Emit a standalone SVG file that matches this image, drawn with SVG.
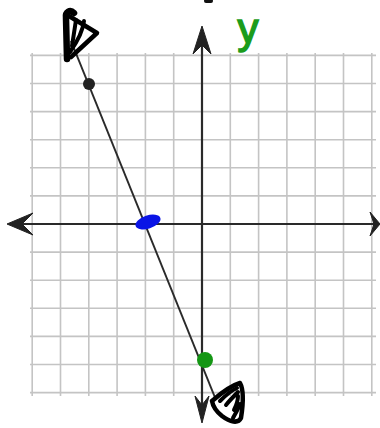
<svg xmlns="http://www.w3.org/2000/svg" width="380" height="428" viewBox="0 0 380 428">
<style>
.grid line{stroke:#c4c4c4;stroke-width:1.6}
.axis{stroke:#2a2a2a;stroke-width:2.2;fill:none}
.ahead{fill:#222;stroke:#222;stroke-width:1;stroke-linejoin:round}
.scrib{fill:none;stroke:#000;stroke-linecap:round;stroke-linejoin:round}
.lbl{font-family:"Liberation Sans","DejaVu Sans",sans-serif;font-size:42px;fill:#1b9c1b;stroke:#1b9c1b;stroke-width:1.5}
</style>
<rect width="380" height="428" fill="#fff"/>
<g id="grid" class="grid">
<line x1="32.2" y1="53" x2="32.2" y2="396"/>
<line x1="60.5" y1="53" x2="60.5" y2="396"/>
<line x1="88.8" y1="53" x2="88.8" y2="396"/>
<line x1="117.1" y1="53" x2="117.1" y2="396"/>
<line x1="145.4" y1="53" x2="145.4" y2="396"/>
<line x1="173.7" y1="53" x2="173.7" y2="396"/>
<line x1="230.3" y1="53" x2="230.3" y2="396"/>
<line x1="258.6" y1="53" x2="258.6" y2="396"/>
<line x1="286.9" y1="53" x2="286.9" y2="396"/>
<line x1="315.2" y1="53" x2="315.2" y2="396"/>
<line x1="343.5" y1="53" x2="343.5" y2="396"/>
<line x1="371.8" y1="53" x2="371.8" y2="396"/>
<line x1="30" y1="55.4" x2="376" y2="55.4"/>
<line x1="30" y1="83.5" x2="376" y2="83.5"/>
<line x1="30" y1="111.6" x2="376" y2="111.6"/>
<line x1="30" y1="139.7" x2="376" y2="139.7"/>
<line x1="30" y1="167.8" x2="376" y2="167.8"/>
<line x1="30" y1="195.9" x2="376" y2="195.9"/>
<line x1="30" y1="252.1" x2="376" y2="252.1"/>
<line x1="30" y1="280.2" x2="376" y2="280.2"/>
<line x1="30" y1="308.3" x2="376" y2="308.3"/>
<line x1="30" y1="336.4" x2="376" y2="336.4"/>
<line x1="30" y1="364.5" x2="376" y2="364.5"/>
<line x1="30" y1="392.6" x2="376" y2="392.6"/>
</g>
<g id="x-axis">
<line class="axis" x1="10" y1="224" x2="376" y2="224"/>
<path class="ahead" d="M7,224 L33,213 L22,224 L33,235 Z"/>
<path class="ahead" d="M380,224 L370,212 L374,224 L370,236 Z"/>
</g>
<g id="y-axis">
<line class="axis" x1="202" y1="30" x2="202" y2="418"/>
<path class="ahead" d="M202,26 L193,54 L202,45 L211,54 Z"/>
<path class="ahead" d="M202,423 L195,396 L202,405 L209,396 Z"/>
<path d="M206,1 L211,1" stroke="#111" stroke-width="4" stroke-linecap="round"/>
</g>
<g id="y-label">
<text class="lbl" x="248" y="43" text-anchor="middle">y</text>
</g>
<g id="line">
<line x1="71" y1="41" x2="216" y2="400" stroke="#2a2a2a" stroke-width="2"/>
</g>
<g id="arrow-top" class="scrib">
<path d="M67,59 L66,18 C65,12 70,9 74,13" stroke-width="6.5"/>
<path d="M69,16 L97,33 L71,57" stroke-width="4.5"/>
<path d="M84,21 C83,30 77,42 70,52" stroke-width="4"/>
<path d="M76,20 L72,46" stroke-width="4"/>
</g>
<g id="arrow-bottom" class="scrib">
<path d="M212,401 C220,394 230,386 240,383 C244,390 243,405 241,418 C238,424 230,422 222,416 C217,412 213,407 212,401" stroke-width="4.5"/>
<path d="M220,401 C226,395 232,390 237,388 M226,405 C230,400 234,396 238,392 M234,410 C237,404 238,400 238,396 M233,418 C236,412 239,408 240,404" stroke-width="4"/>
</g>
<g id="points">
<circle id="point-a" cx="89" cy="84" r="6" fill="#222"/>
<ellipse id="point-b" cx="148" cy="222" rx="13" ry="6.5" fill="#0a14e6" transform="rotate(-18 148 222)"/>
<circle id="point-c" cx="205" cy="360" r="8" fill="#149614"/>
</g>
</svg>
